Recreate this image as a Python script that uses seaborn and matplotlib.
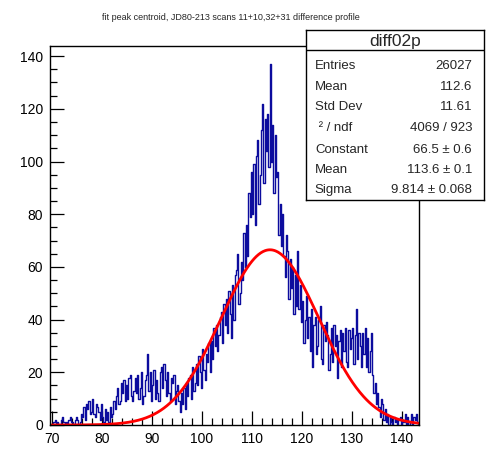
import numpy as np
import pandas as pd
import matplotlib
matplotlib.use("Agg")
import matplotlib.pyplot as plt
import seaborn as sns
from matplotlib.ticker import MultipleLocator

# chart text
title = "fit peak centroid, JD80-213 scans 11+10,32+31 difference profile"
hist_name = "diff02p"

# histogram: bins of 0.25 starting at 70
bin_start = 70.0
bin_width = 0.25
counts = [
    0, 1, 2, 0,  1, 0, 0, 2,  3, 1, 0, 1,  0, 2, 3, 1,  1, 0, 2, 3,        # 70-75
    2, 0, 1, 4,  3, 7, 2, 8,  6, 9, 4, 5,  10, 4, 3, 8,  7, 5, 2, 8,       # 75-80
    3, 1, 6, 2,  5, 1, 7, 3,  4, 9, 6, 11,  14, 8, 9, 16,  12, 17, 9, 15,  # 80-85
    10, 18, 19, 11,  9, 13, 18, 12,  19, 10, 14, 20,  8, 11, 17, 19,  27, 13, 20, 9,  # 85-90
    15, 21, 10, 17,  12, 9, 20, 22,  14, 23, 17, 11,  20, 12, 9, 18,  16, 19, 8, 13,  # 90-95
    15, 9, 5, 12,  8, 14, 6, 16,  11, 18, 19, 10,  22, 13, 16, 23,  15, 26, 20, 14,  # 95-100
    29, 21, 17, 27,  24, 31, 20, 32,  25, 37, 30, 38,  28, 34, 41, 43,  31, 46, 38, 48,  # 100-105
    35, 51, 42, 33,  53, 40, 57, 59,  65, 46, 50, 62,  55, 73, 60, 76,  64, 88, 79, 96,  # 105-110
    80, 99, 76, 102,  108, 84, 95, 112,  122, 92, 116, 104,  118, 98, 137, 100,  114, 88, 110, 94,  # 110-115
    96, 72, 84, 68,  80, 64, 56, 72,  66, 48, 63, 52,  60, 42, 57, 45,  66, 44, 53, 39,  # 115-120
    47, 31, 40, 49,  33, 41, 28, 44,  22, 38, 41, 27,  30, 40, 45, 25,  23, 38, 32, 39,  # 120-125
    34, 21, 27, 37,  24, 38, 30, 34,  18, 32, 36, 22,  35, 28, 37, 24,  22, 36, 29, 33,  # 125-130
    37, 23, 34, 44,  25, 35, 30, 22,  35, 27, 37, 22,  33, 20, 28, 35,  19, 12, 16, 8,  # 130-135
    12, 7, 3, 10,  8, 2, 6, 1,  4, 0, 3, 1,  0, 3, 1, 2,  0, 2, 3, 0,      # 135-140
    2, 1, 4, 0,  3, 0, 1, 4,  0, 3, 2, 4,  1, 0,                          # 140-143.5
]

# gaussian fit parameters (from the stats box)
fit_constant = 66.5
fit_mean = 113.6
fit_sigma = 9.814

# stats box
stat_labels = ["Entries", "Mean", "Std Dev", " \u00b2 / ndf", "Constant", "Mean", "Sigma"]
stat_values = ["26027", "112.6", "11.61", "4069 / 923",
               "66.5 \u00b1 0.6", "113.6 \u00b1 0.1", "9.814 \u00b1 0.068"]

x_min, x_max = 69.6, 143.4

#%% build data
centers = bin_start + bin_width * (np.arange(len(counts)) + 0.5)
df = pd.DataFrame({"x": centers, "n": counts})
bin_end = bin_start + bin_width * len(counts)

xs = np.linspace(x_min, x_max, 500)
fit_df = pd.DataFrame({"x": xs,
                       "y": fit_constant * np.exp(-0.5 * ((xs - fit_mean) / fit_sigma) ** 2)})

#%% plot
sns.set_style("ticks")
plt.rcParams["font.family"] = ["Liberation Sans", "DejaVu Sans"]

fig = plt.figure(figsize=(4.94, 4.72), dpi=100)
ax = fig.add_axes([50 / 494, 1 - 425 / 472, 369 / 494, 379 / 472])

sns.histplot(data=df, x="x", weights="n", binwidth=bin_width,
             binrange=(bin_start, bin_end), element="step", fill=False,
             color="#0c0c9e", linewidth=1.0, ax=ax)
sns.lineplot(data=fit_df, x="x", y="y", color="#ff0000", linewidth=2, ax=ax)

ax.set_xlim(x_min, x_max)
ax.set_ylim(0, 1.05 * max(counts))
ax.set_xlabel("")
ax.set_ylabel("")

ax.xaxis.set_major_locator(MultipleLocator(10))
ax.xaxis.set_minor_locator(MultipleLocator(2))
ax.yaxis.set_major_locator(MultipleLocator(20))
ax.yaxis.set_minor_locator(MultipleLocator(5))
ax.tick_params(which="both", direction="in", top=False, right=False,
               width=0.9, colors="black", labelsize=10, pad=5)
ax.tick_params(which="major", length=10)
ax.tick_params(which="minor", length=5)
for s in ax.spines.values():
    s.set_visible(True)
    s.set_linewidth(1)
    s.set_color("black")

fig.text(231 / 494, 1 - 17 / 472, title, ha="center", va="center", fontsize=6.5)

# stats box
bax = fig.add_axes([306 / 494, 1 - 200 / 472, 178 / 494, 170 / 472])
bax.set_xlim(0, 1)
bax.set_ylim(0, 1)
bax.set_xticks([])
bax.set_yticks([])
bax.set_facecolor("white")
for s in bax.spines.values():
    s.set_visible(True)
    s.set_linewidth(1)
    s.set_color("black")
bax.axhline(0.882, color="black", linewidth=1)
bax.text(0.5, 0.931, hist_name, ha="center", va="center", fontsize=12.5)

row_y = [0.788, 0.667, 0.549, 0.425, 0.294, 0.176, 0.059]
for yy, lab, val in zip(row_y, stat_labels, stat_values):
    bax.text(0.05, yy, lab, ha="left", va="center", fontsize=9.5)
    bax.text(0.933, yy, val, ha="right", va="center", fontsize=9.5)

fig.savefig("out.png", dpi=100)
